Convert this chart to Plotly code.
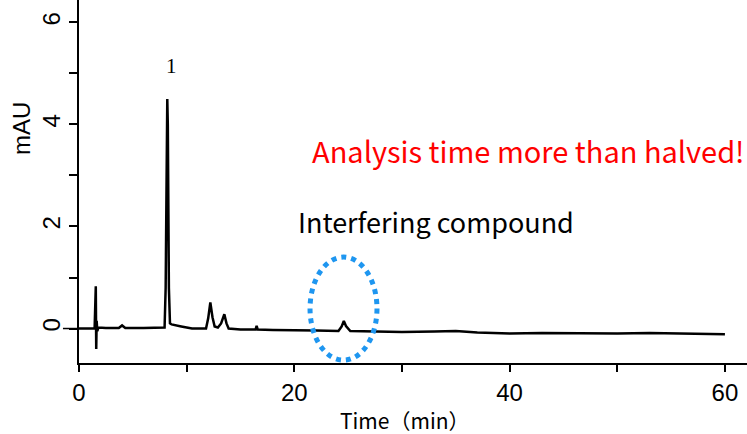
import plotly.graph_objects as go

# Chromatogram trace (time in min, absorbance in mAU)
time_min = [0.0, 1.0, 1.45, 1.56, 1.6, 1.64, 1.7, 1.8, 2.5, 3.7, 4.0, 4.3, 6.0, 7.8, 7.95,
            8.05, 8.15, 8.2, 8.25, 8.35, 8.45, 8.6, 9.5, 10.5, 11.8, 12.0, 12.2, 12.4, 12.6,
            12.9, 13.2, 13.5, 13.7, 13.9, 15.0, 16.4, 16.5, 16.6, 18.0, 20.0, 22.0, 24.1,
            24.4, 24.6, 24.8, 25.2, 27.0, 30.0, 33.0, 35.0, 37.0, 40.0, 43.0, 46.0, 50.0,
            53.0, 56.0, 58.0, 60.0]
absorb_mau = [0.0, 0.0, 0.0, 0.83, -0.40, 0.15, -0.05, 0.02, 0.01, 0.01, 0.06, 0.01, 0.01, 0.02, 0.02,
              0.8, 4.0, 4.5, 4.0, 0.8, 0.1, 0.08, 0.04, 0.0, 0.0, 0.2, 0.51, 0.22, 0.04,
              0.02, 0.1, 0.28, 0.1, 0.0, -0.02, -0.02, 0.05, -0.02, -0.03, -0.03, -0.04, -0.05,
              0.04, 0.15, 0.05, -0.05, -0.06, -0.07, -0.06, -0.05, -0.08, -0.10, -0.09, -0.10, -0.10,
              -0.09, -0.10, -0.11, -0.11]
assert len(time_min) == len(absorb_mau)

x_ticks = [0, 20, 40, 60]
x_minor = [10, 30, 50]
y_ticks = [0, 2, 4, 6]
y_minor = [1, 3, 5]

peak_label = "1"
peak_label_pos = (8.55, 5.15)
red_note = "Analysis time more than halved!"
red_note_pos = (41.7, 3.5)
black_note = "Interfering compound"
black_note_pos = (33.2, 2.09)
ellipse_box = (21.46, 27.68, -0.62, 1.40)
y_title = "mAU"
x_title = "Time（min）"

fig = go.Figure()
fig.add_trace(go.Scatter(x=time_min, y=absorb_mau, mode="lines",
                         line=dict(color="black", width=2.5), showlegend=False,
                         hoverinfo="skip"))

fig.add_annotation(x=peak_label_pos[0], y=peak_label_pos[1], text=peak_label,
                   showarrow=False, font=dict(family="Liberation Serif", size=21, color="black"),
                   xanchor="center", yanchor="middle")
fig.add_annotation(x=red_note_pos[0], y=red_note_pos[1], text=red_note,
                   showarrow=False, font=dict(family="Noto Sans CJK JP", size=29, color="#ff0000"),
                   xanchor="center", yanchor="middle")
fig.add_annotation(x=black_note_pos[0], y=black_note_pos[1], text=black_note,
                   showarrow=False, font=dict(family="Noto Sans CJK JP", size=27, color="black"),
                   xanchor="center", yanchor="middle")

axis_font = dict(family="Liberation Sans", size=24, color="black")
# axis titles placed like the reference
fig.add_annotation(xref="paper", yref="paper", x=-0.087, y=0.647, text=y_title,
                   textangle=-90, showarrow=False, font=axis_font,
                   xanchor="center", yanchor="middle")
fig.add_annotation(xref="paper", yref="paper", x=0.488, y=-0.157, text=x_title,
                   showarrow=False, borderpad=0,
                   font=dict(family="Noto Sans CJK JP", size=21, color="black"),
                   xanchor="center", yanchor="middle")

fig.add_shape(type="circle", xref="x", yref="y",
              x0=ellipse_box[0], x1=ellipse_box[1], y0=ellipse_box[2], y1=ellipse_box[3],
              line=dict(color="#1e96f0", width=5, dash="dot"))
fig.add_shape(type="line", xref="paper", yref="y", x0=-0.024, x1=0, y0=0, y1=0,
              line=dict(color="black", width=1.5))

fig.update_layout(
    width=747, height=434,
    margin=dict(l=79, r=0, t=0, b=71),
    paper_bgcolor="white", plot_bgcolor="white",
    xaxis=dict(range=[0, 62.05], tickvals=x_ticks, ticks="outside", ticklen=7,
               tickwidth=1.5, tickcolor="black", showline=True, linewidth=1.5,
               linecolor="black", showgrid=False, zeroline=False, tickfont=axis_font,
               automargin=False,
               minor=dict(tickvals=x_minor, ticks="outside", ticklen=7, tickwidth=1.5,
                          tickcolor="black")),
    yaxis=dict(range=[-0.676, 6.44], tickvals=y_ticks, ticks="outside", ticklen=8,
               tickwidth=1.5, tickcolor="black", showline=True, linewidth=1.5,
               linecolor="black", showgrid=False, zeroline=False, tickfont=axis_font,
               tickangle=-90, automargin=False,
               minor=dict(tickvals=y_minor, ticks="outside", ticklen=8, tickwidth=1.5,
                          tickcolor="black")),
)

fig.write_html("out.html", config={"displayModeBar": False},
               post_script="document.body.style.margin='0';document.body.style.overflow='hidden';")
